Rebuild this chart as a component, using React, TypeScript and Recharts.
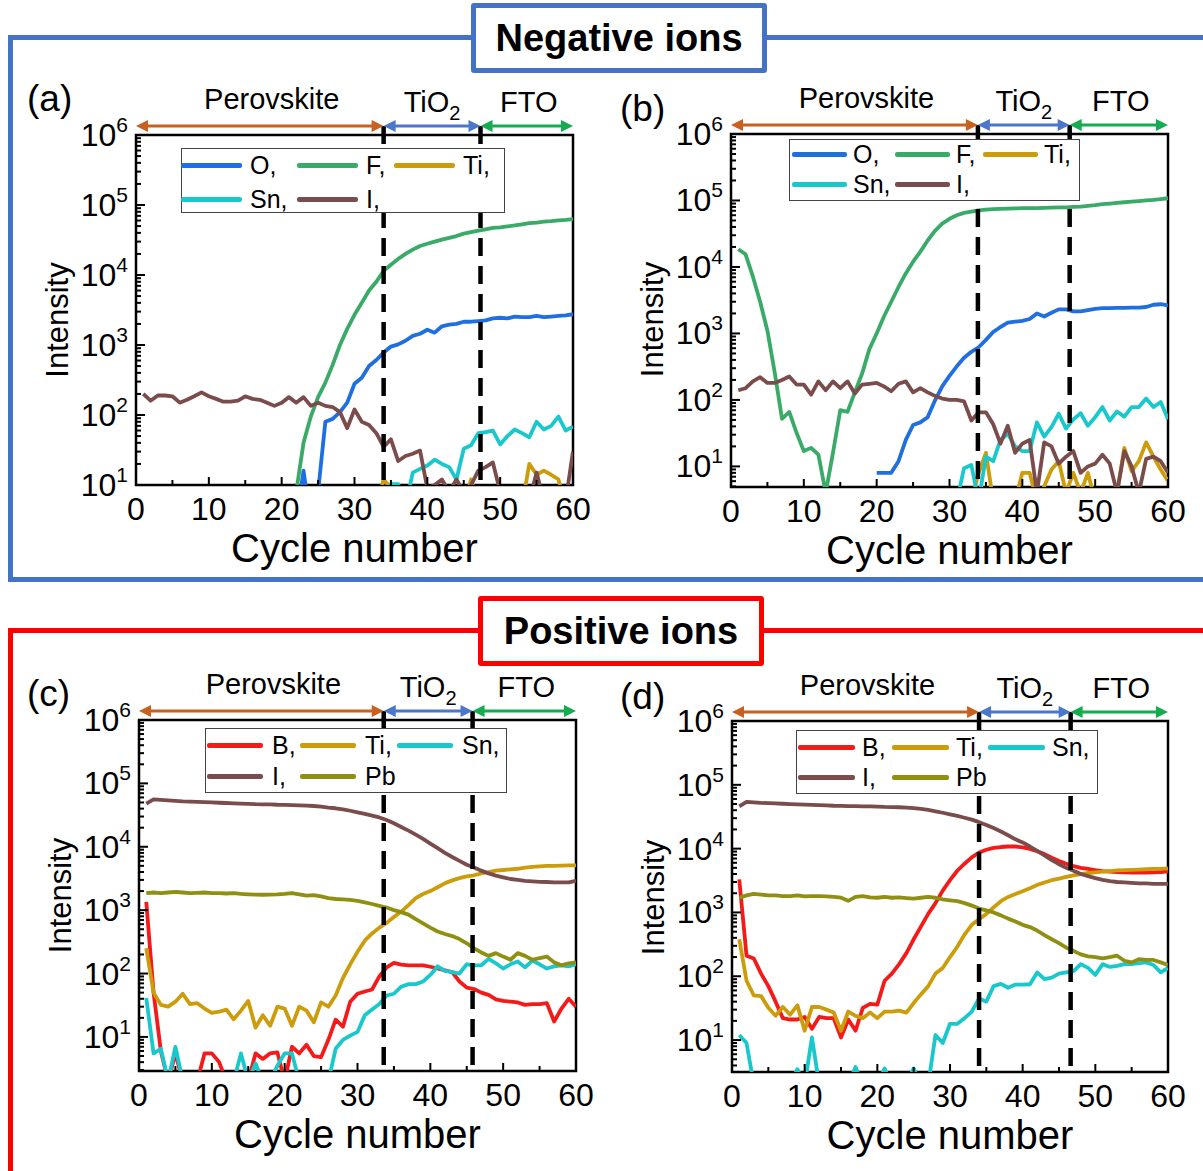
import React from 'react';
import { LineChart, Line, XAxis, YAxis, ReferenceLine, ReferenceArea, Legend } from 'recharts';

const FONT = '"Liberation Sans", Arial, Helvetica, sans-serif';

const cycles = [
  1, 2, 3, 4, 5, 6, 7, 8, 9, 10, 11, 12, 13, 14, 15, 16, 17, 18, 19, 20,
  21, 22, 23, 24, 25, 26, 27, 28, 29, 30, 31, 32, 33, 34, 35, 36, 37, 38, 39, 40,
  41, 42, 43, 44, 45, 46, 47, 48, 49, 50, 51, 52, 53, 54, 55, 56, 57, 58, 59, 60,
];

const xTicks = [0, 5, 10, 15, 20, 25, 30, 35, 40, 45, 50, 55, 60];
const yDecades = [1, 10, 100, 1000, 10000, 100000, 1000000];
const yMinorSteps = [1, 2, 3, 4, 5, 6, 7, 8, 9];

// (a) negative ions, sample 1
const aO = [null, null, null, null, null, null, null, null, null, null, null, null, null, null, null, null, null, null, null, null,
  null, 3, 16, 3, 8, 80, 88, 110, 150, 280, 340, 500, 610, 780, 950, 1020, 1150, 1350, 1450, 1650,
  1500, 1850, 1950, 2000, 2150, 2150, 2200, 2250, 2400, 2450, 2400, 2550, 2500, 2500, 2600, 2500, 2550, 2600, 2650, 2750];
const aF = [null, null, null, null, null, null, null, null, null, null, null, null, null, null, null, null, null, null, null, null,
  null, 8, 40, 95, 180, 290, 520, 1000, 1700, 2700, 4000, 6000, 8000, 11500, 14000, 17000, 20000, 23000, 26000, 28000,
  30000, 32000, 34000, 36000, 39000, 41000, 43000, 45000, 47000, 48000, 49500, 51000, 53000, 55000, 56000, 58000, 59000, 60500, 61500, 63000];
const aTi = [null, null, null, null, null, null, null, null, null, null, null, null, null, null, null, null, null, null, null, null,
  null, null, null, null, null, null, null, null, null, null, null, null, 5, 12, 9, 5, 5, 5, 5, 5,
  5, 5, 5, 5, 5, 12, 5, 5, 5, 5, 5, 5, 5, 20, 14, 16, 14, 12, 5, 5];
const aSn = [null, null, null, null, null, null, null, null, null, null, null, null, null, null, null, null, null, null, null, null,
  null, null, null, null, null, null, null, null, null, null, null, null, null, 5, 10.3, 10.3, 5, 15, 17, 19,
  23, 20, 18, 12, 33, 37, 55, 57, 60, 38, 50, 62, 55, 48, 80, 62, 70, 95, 60, 68];
const aI = [200, 160, 190, 190, 185, 150, 165, 185, 210, 185, 170, 155, 155, 160, 185, 170, 165, 150, 135, 150,
  180, 150, 180, 135, 150, 135, 130, 110, 65, 120, 80, 72, 55, 35, 45, 22, 26, 28, 31, 9,
  10, 12, 8, 12, 8, 10, 16, 18, 21, 8, 6, 5, 6, 6, 15, 6, 6, 6, 6, 30];

// (b) negative ions, sample 2
const bO = [null, null, null, null, null, null, null, null, null, null, null, null, null, null, null, null, null, null, null, 8,
  8, 8, 12, 25, 42, 46, 55, 98, 160, 230, 320, 430, 530, 620, 800, 1050, 1250, 1450, 1500, 1550,
  1650, 2000, 1800, 2050, 2300, 2300, 2150, 2150, 2250, 2350, 2400, 2400, 2420, 2420, 2450, 2450, 2500, 2700, 2750, 2650];
const bF = [18500, 15500, 7200, 3000, 1100, 260, 52, 66, 32, 17, 19, 15, 4, 16, 70, 66, 130, 250, 580, 1000,
  1800, 3000, 5000, 8000, 12000, 17000, 25000, 35000, 45000, 53000, 60000, 65000, 68000, 71000, 73000, 74000, 75000, 75500, 76000, 76500,
  77000, 77000, 77500, 78000, 78500, 79000, 80000, 81000, 83000, 85000, 88000, 90000, 92000, 94000, 96000, 98000, 100000, 102000, 105000, 108000];
const bTi = [null, null, null, null, null, null, null, null, null, null, null, null, null, null, null, null, null, null, null, null,
  null, null, null, null, null, null, null, null, null, null, null, null, 3, 8, 16, 3, 3, 3, 3, 8,
  8, 3, 5, 9, 12, 4, 8, 4, 8, 3, 3, 3, 4, 19, 8.5, 12, 23, 14, 9, 6];
const bSn = [null, null, null, null, null, null, null, null, null, null, null, null, null, null, null, null, null, null, null, null,
  null, null, null, null, null, null, null, null, null, null, 3, 9.4, 10.5, 3, 14, 12, 25, 31, 20, 17,
  17, 46, 28, 39, 62, 37, 51, 63, 41, 55, 78, 49, 67, 56, 78, 78, 105, 78, 93, 51];
const bI = [140, 150, 190, 220, 180, 180, 200, 225, 170, 170, 120, 190, 140, 190, 150, 190, 125, 170, 175, 180,
  160, 135, 175, 190, 130, 150, 130, 115, 105, 100, 100, 95, 49, 65, 65, 43, 22, 41, 16, 22,
  25, 4, 23, 20, 11, 14, 17, 8, 10, 11, 15, 11, 4, 17, 10, 4, 13, 14, 12, 8];

// (c) positive ions, sample 1
const cB = [1350, 50, 6, 2, 5.5, 2, 2, 2, 5.5, 5.5, 4, 2, 2, 2, 2, 5.5, 4.5, 5.5, 5.7, 2,
  7, 5.5, 7.5, 5, 4.8, 9, 18.7, 14.5, 36, 48, 52, 56, 90, 125, 147, 138, 135, 135, 135, 128,
  120, 112, 105, 75, 60, 57, 50, 46, 39, 37, 36, 35, 32, 33, 33, 34, 17.5, 28, 40, 30];
const cTi = [250, 50, 32, 30, 36, 48, 33, 34, 28, 24, 25, 27, 19, 26, 37, 14, 22, 15, 30, 28,
  15, 30, 26, 17, 35, 30, 45, 85, 140, 220, 330, 430, 530, 630, 780, 950, 1200, 1550, 1800, 2000,
  2300, 2650, 2950, 3200, 3400, 3550, 3800, 4000, 4200, 4300, 4400, 4500, 4700, 4800, 4900, 5000, 5000, 5050, 5100, 5100];
const cSn = [41, 5.5, 6.5, 2, 7, 2, 2, 2, 2, 2, 2, 2, 2, 5.5, 2, 3.8, 2, 2, 3.5, 5.5,
  5.5, 2, 2, 2, 2, 2, 6.5, 9, 10.5, 12, 22, 27, 33, 45, 48, 62, 68, 68, 75, 95,
  130, 110, 105, 100, 140, 135, 135, 170, 145, 120, 140, 155, 125, 160, 140, 120, 130, 135, 130, 140];
const cI = [48000, 56000, 55000, 54000, 53000, 52000, 51500, 51000, 50500, 50000, 49500, 49000, 48500, 48000, 47500, 47000, 46800, 46500, 46000, 45800,
  45500, 45000, 44500, 44000, 43000, 41500, 40500, 39000, 37000, 35000, 33000, 31000, 29000, 26500, 23500, 20500, 18000, 15500, 13300, 11200,
  9500, 8000, 6900, 6000, 5200, 4700, 4200, 3800, 3500, 3300, 3100, 3000, 2900, 2850, 2800, 2780, 2750, 2750, 2750, 2900];
const cPb = [1850, 1900, 1850, 1900, 1950, 1900, 1850, 1880, 1900, 1850, 1850, 1830, 1850, 1800, 1780, 1760, 1750, 1760, 1770, 1800,
  1850, 1780, 1700, 1720, 1650, 1550, 1500, 1480, 1450, 1400, 1330, 1250, 1170, 1100, 1000, 930, 850, 720, 620, 530,
  460, 420, 390, 350, 300, 250, 215, 190, 210, 185, 165, 210, 190, 165, 175, 185, 150, 135, 145, 150];

// (d) positive ions, sample 2
const dB = [3300, 210, 190, 110, 70, 40, 22, 21, 21, 23, 15, 23, 22, 22, 11, 21, 14, 32, 37, 36,
  85, 110, 155, 230, 380, 600, 950, 1400, 2200, 3200, 4500, 5800, 7300, 8700, 9600, 10300, 10600, 10800, 10800, 10500,
  9900, 9100, 8200, 7200, 6400, 5800, 5300, 5000, 4800, 4600, 4450, 4350, 4300, 4250, 4200, 4200, 4200, 4250, 4300, 4400];
const dTi = [380, 85, 50, 49, 32, 24, 33, 25, 35, 14, 33, 33, 30, 27, 14, 28, 24, 22, 27, 22,
  28, 28, 29, 27, 38, 52, 70, 110, 135, 200, 290, 450, 640, 780, 950, 1200, 1500, 1750, 1950, 2150,
  2400, 2700, 2950, 3200, 3400, 3600, 3800, 4000, 4150, 4250, 4350, 4450, 4550, 4600, 4650, 4700, 4750, 4800, 4800, 4900];
const dSn = [12, 9, 2, 2, 2, 2, 2, 2, 3.5, 2, 11, 2, 2, 2, 2, 2, 3.8, 2, 2, 2,
  3.6, 2, 2, 2, 3.6, 2, 2, 12, 9, 18, 18, 22, 28, 45, 40, 70, 76, 66, 74, 74,
  75, 115, 90, 95, 110, 115, 120, 155, 135, 105, 155, 140, 145, 155, 155, 160, 165, 150, 115, 135];
const dI = [46000, 54000, 53000, 52000, 51500, 51000, 50500, 50000, 49500, 49000, 48500, 48000, 47500, 47000, 46800, 46500, 46200, 46000, 45800, 45500,
  45000, 44800, 44500, 44000, 43000, 42000, 40500, 38500, 36500, 34500, 32500, 30500, 28500, 26000, 23500, 21000, 18500, 16200, 14000, 12500,
  10800, 9200, 7800, 6600, 5700, 5000, 4500, 4000, 3700, 3450, 3250, 3100, 3000, 2950, 2900, 2850, 2850, 2800, 2800, 2800];
const dPb = [1700, 1850, 1950, 1900, 1850, 1850, 1800, 1800, 1850, 1780, 1800, 1800, 1780, 1760, 1700, 1520, 1750, 1800, 1720, 1700,
  1750, 1700, 1720, 1680, 1650, 1700, 1750, 1700, 1600, 1550, 1500, 1400, 1280, 1150, 1080, 1000, 900, 800, 720, 640,
  590, 520, 440, 380, 330, 280, 250, 220, 205, 200, 190, 200, 210, 175, 165, 185, 180, 180, 165, 150];

const COLORS: Record<string, string> = {
  O: '#1f6fe0',
  F: '#3aaa68',
  Ti: '#cc9c0a',
  Sn: '#19c8cc',
  I: '#7a4c4c',
  B: '#f41a1a',
  Pb: '#8f8f12',
};

const ARROW = { per: '#c8611f', tio: '#4a77cc', fto: '#13ad4f' };

type Series = { key: string; values: (number | null)[] };

const buildRows = (series: Series[]) =>
  cycles.map((c, i) => {
    const row: Record<string, number | null> = { cycle: c };
    series.forEach((s) => {
      row[s.key] = s.values[i];
    });
    return row;
  });

const yTicksFor = (min: number) => {
  const out: number[] = [];
  yDecades.forEach((d) => {
    yMinorSteps.forEach((m) => {
      const v = d * m;
      if (v >= min && v <= 1000000) out.push(v);
    });
  });
  return out;
};

const renderYTick = (props: any) => {
  const { x, y, payload } = props;
  const v = payload.value;
  const lg = Math.log10(v);
  const exp = Math.round(lg);
  const major = Math.abs(lg - exp) < 1e-6;
  return (
    <g>
      <line x1={x} x2={x + (major ? 9 : 5)} y1={y} y2={y} stroke="#000" strokeWidth={2} />
      {major && (
        <text x={x - 8} y={y + 11} textAnchor="end" fontFamily={FONT} fontSize={32} fill="#000">
          10
          <tspan fontSize={21} dy={-14}>
            {exp}
          </tspan>
        </text>
      )}
    </g>
  );
};

const renderXTick = (props: any) => {
  const { x, y, payload } = props;
  const v = payload.value;
  const major = v % 10 === 0;
  return (
    <g>
      <line x1={x} x2={x} y1={y} y2={y - (major ? 8 : 5)} stroke="#000" strokeWidth={2} />
      {major && (
        <text x={x} y={y + 35} textAnchor="middle" fontFamily={FONT} fontSize={32} fill="#000">
          {v}
        </text>
      )}
    </g>
  );
};

const dashShape = (p: any) => {
  const top = Math.min(p.y1, p.y2) - 9;
  const bot = Math.max(p.y1, p.y2);
  return (
    <line x1={p.x1} x2={p.x2} y1={top} y2={bot} stroke="#000" strokeWidth={4.5} strokeDasharray="18 10" />
  );
};

const arrowShape = (color: string, text: React.ReactNode, dx: number, dy: number) => (p: any) => {
  const xa = Math.min(p.x1, p.x2);
  const xb = Math.max(p.x1, p.x2);
  const y = p.y1 - 9;
  const h = 12;
  const w = 6;
  return (
    <g>
      <line x1={xa + h - 1} x2={xb - h + 1} y1={y} y2={y} stroke={color} strokeWidth={3} />
      <polygon points={`${xa},${y} ${xa + h},${y - w} ${xa + h},${y + w}`} fill={color} />
      <polygon points={`${xb},${y} ${xb - h},${y - w} ${xb - h},${y + w}`} fill={color} />
      <text x={(xa + xb) / 2 + dx} y={y - dy} textAnchor="middle" fontFamily={FONT} fontSize={29} fill="#000">
        {text}
      </text>
    </g>
  );
};

type LegendCfg = {
  left: number;
  top: number;
  width: number;
  height: number;
  cols: number[];
  rows: number[];
  line: number;
  gap: number;
};

const legendPos = [
  [0, 0],
  [1, 0],
  [2, 0],
  [0, 1],
  [1, 1],
];

const makeLegend = (cfg: LegendCfg, order: string[]) => (props: any) => {
  const payload = props.payload || [];
  // keep the order of the original figure, not the sorted one
  const items = order
    .map((name) => payload.find((e: any) => e.value === name))
    .filter(Boolean);
  return (
    <div
      style={{
        position: 'relative',
        width: cfg.width,
        height: cfg.height,
        background: '#fff',
        border: '1.5px solid #444',
        boxSizing: 'border-box',
        fontFamily: FONT,
      }}
    >
      {items.map((e: any, i: number) => {
        const [c, r] = legendPos[i] || [0, 0];
        const lx = cfg.cols[c];
        const cy = cfg.rows[r];
        return (
          <React.Fragment key={i}>
            <div
              style={{
                position: 'absolute',
                left: lx - 1,
                top: cy - 3,
                width: cfg.line,
                height: 4.5,
                borderRadius: 2,
                background: e.color,
              }}
            />
            <span
              style={{
                position: 'absolute',
                left: lx + cfg.gap - 1,
                top: cy - 16,
                lineHeight: '30px',
                fontSize: 25,
                color: '#000',
                whiteSpace: 'nowrap',
              }}
            >
              {e.value}
            </span>
          </React.Fragment>
        );
      })}
    </div>
  );
};

type PanelCfg = {
  letter: string;
  letterPos: [number, number];
  plot: { left: number; top: number; right: number; bottom: number };
  yMin: number;
  series: Series[];
  labels: string[];
  dashes: [number, number];
  legend: LegendCfg;
  yLabelDy: number;
};

const Panel: React.FC<{ cfg: PanelCfg }> = ({ cfg }) => {
  const { plot } = cfg;
  const chartLeft = plot.left - 110;
  const chartTop = plot.top - 95;
  const width = plot.right - plot.left + 140;
  const height = plot.bottom - plot.top + 190;
  const rows = buildRows(cfg.series);
  const [d1, d2] = cfg.dashes;
  const yTop = 1000000;

  return (
    <div style={{ position: 'absolute', left: chartLeft, top: chartTop, width, height }}>
      <LineChart width={width} height={height} data={rows} margin={{ top: 95, right: 30, left: 10, bottom: 5 }}>
        <XAxis
          dataKey="cycle"
          type="number"
          domain={[0, 60]}
          ticks={xTicks}
          interval={0}
          tick={renderXTick}
          tickLine={false}
          axisLine={false}
          tickSize={0}
          tickMargin={0}
          height={90}
          allowDataOverflow
          label={(p: any) => {
            const vb = p.viewBox;
            return (
              <text
                x={vb.x + vb.width / 2}
                y={vb.y + 77}
                textAnchor="middle"
                fontFamily={FONT}
                fontSize={40}
                fill="#000"
              >
                Cycle number
              </text>
            );
          }}
        />
        <YAxis
          type="number"
          scale="log"
          domain={[cfg.yMin, yTop]}
          ticks={yTicksFor(cfg.yMin)}
          interval={0}
          tick={renderYTick}
          tickLine={false}
          axisLine={false}
          tickSize={0}
          tickMargin={0}
          width={100}
          allowDataOverflow
          label={(p: any) => {
            const vb = p.viewBox;
            const lx = vb.x + vb.width - 68;
            const ly = vb.y + vb.height / 2 + cfg.yLabelDy;
            return (
              <text
                x={lx}
                y={ly}
                transform={`rotate(-90 ${lx} ${ly})`}
                textAnchor="middle"
                fontFamily={FONT}
                fontSize={31}
                fill="#000"
              >
                Intensity
              </text>
            );
          }}
        />
        <ReferenceArea
          x1={0}
          x2={60}
          y1={cfg.yMin}
          y2={yTop}
          fill="none"
          fillOpacity={0}
          stroke="#000"
          strokeWidth={2.5}
          ifOverflow="visible"
        />
        {cfg.series.map((s, i) => (
          <Line
            key={s.key}
            type="linear"
            dataKey={s.key}
            name={cfg.labels[i]}
            stroke={COLORS[s.key]}
            strokeWidth={3.8}
            strokeLinejoin="round"
            dot={false}
            activeDot={false}
            connectNulls={false}
            isAnimationActive={false}
          />
        ))}
        <ReferenceLine x={d1} ifOverflow="visible" shape={dashShape} />
        <ReferenceLine x={d2} ifOverflow="visible" shape={dashShape} />
        <ReferenceLine
          segment={[{ x: 0, y: yTop }, { x: d1, y: yTop }]}
          ifOverflow="visible"
          shape={arrowShape(ARROW.per, 'Perovskite', 12, 17)}
        />
        <ReferenceLine
          segment={[{ x: d1, y: yTop }, { x: d2, y: yTop }]}
          ifOverflow="visible"
          shape={arrowShape(
            ARROW.tio,
            <>
              TiO
              <tspan fontSize={20} dy={8}>
                2
              </tspan>
            </>,
            0,
            14,
          )}
        />
        <ReferenceLine
          segment={[{ x: d2, y: yTop }, { x: 60, y: yTop }]}
          ifOverflow="visible"
          shape={arrowShape(ARROW.fto, 'FTO', 2, 14)}
        />
        <Legend
          layout="vertical"
          align="center"
          verticalAlign="middle"
          wrapperStyle={{
            left: cfg.legend.left - chartLeft,
            top: cfg.legend.top - chartTop,
            width: cfg.legend.width,
            height: cfg.legend.height,
          }}
          content={makeLegend(cfg.legend, cfg.labels)}
        />
      </LineChart>
    </div>
  );
};

const panels: PanelCfg[] = [
  {
    letter: '(a)',
    letterPos: [27, 111],
    plot: { left: 136, top: 135, right: 573, bottom: 485 },
    yMin: 10,
    series: [
      { key: 'O', values: aO },
      { key: 'F', values: aF },
      { key: 'Ti', values: aTi },
      { key: 'Sn', values: aSn },
      { key: 'I', values: aI },
    ],
    labels: ['O,', 'F,', 'Ti,', 'Sn,', 'I,'],
    dashes: [34, 47.3],
    legend: { left: 181, top: 148, width: 324, height: 65, cols: [0, 116, 213], rows: [17, 51], line: 61, gap: 69 },
    yLabelDy: 10,
  },
  {
    letter: '(b)',
    letterPos: [620, 121],
    plot: { left: 731, top: 134, right: 1168, bottom: 487 },
    yMin: 4.9,
    series: [
      { key: 'O', values: bO },
      { key: 'F', values: bF },
      { key: 'Ti', values: bTi },
      { key: 'Sn', values: bSn },
      { key: 'I', values: bI },
    ],
    labels: ['O,', 'F,', 'Ti,', 'Sn,', 'I,'],
    dashes: [33.9, 46.5],
    legend: { left: 789, top: 139, width: 291, height: 62, cols: [3, 106, 194], rows: [15, 45], line: 55, gap: 61 },
    yLabelDy: 9,
  },
  {
    letter: '(c)',
    letterPos: [27, 706],
    plot: { left: 139, top: 720, right: 576, bottom: 1071 },
    yMin: 2.9,
    series: [
      { key: 'B', values: cB },
      { key: 'Ti', values: cTi },
      { key: 'Sn', values: cSn },
      { key: 'I', values: cI },
      { key: 'Pb', values: cPb },
    ],
    labels: ['B,', 'Ti,', 'Sn,', 'I,', 'Pb'],
    dashes: [33.6, 45.8],
    legend: { left: 205, top: 728, width: 302, height: 65, cols: [2, 95, 192], rows: [17, 48], line: 56, gap: 65 },
    yLabelDy: 0,
  },
  {
    letter: '(d)',
    letterPos: [620, 709],
    plot: { left: 732, top: 721, right: 1168, bottom: 1072 },
    yMin: 3.16,
    series: [
      { key: 'B', values: dB },
      { key: 'Ti', values: dTi },
      { key: 'Sn', values: dSn },
      { key: 'I', values: dI },
      { key: 'Pb', values: dPb },
    ],
    labels: ['B,', 'Ti,', 'Sn,', 'I,', 'Pb'],
    dashes: [34, 46.6],
    legend: { left: 796, top: 730, width: 302, height: 64, cols: [2, 96, 192], rows: [17, 47], line: 57, gap: 64 },
    yLabelDy: 1,
  },
];

const titleBox = (left: number, top: number, w: number, h: number, color: string, text: string) => (
  <div
    style={{
      position: 'absolute',
      left,
      top,
      width: w,
      height: h,
      border: `5px solid ${color}`,
      borderRadius: 3,
      background: '#fff',
      boxSizing: 'border-box',
      display: 'flex',
      alignItems: 'center',
      justifyContent: 'center',
      fontFamily: FONT,
      fontWeight: 700,
      fontSize: 38,
      color: '#000',
    }}
  >
    {text}
  </div>
);

export default function App() {
  return (
    <div
      style={{
        position: 'absolute',
        left: 0,
        top: 0,
        width: 1203,
        height: 1171,
        overflow: 'hidden',
        background: '#fff',
        fontFamily: FONT,
      }}
    >
      <div
        style={{
          position: 'absolute',
          left: 8,
          top: 35,
          width: 1300,
          height: 547,
          border: '5px solid #4472c4',
          boxSizing: 'border-box',
        }}
      />
      <div
        style={{
          position: 'absolute',
          left: 8,
          top: 628,
          width: 1300,
          height: 700,
          border: '5px solid #ff0000',
          boxSizing: 'border-box',
        }}
      />
      {titleBox(471, 3, 296, 70, '#4472c4', 'Negative ions')}
      {titleBox(478, 596, 286, 70, '#ff0000', 'Positive ions')}
      {panels.map((p) => (
        <Panel key={p.letter} cfg={p} />
      ))}
      <svg width={1203} height={1171} style={{ position: 'absolute', left: 0, top: 0, pointerEvents: 'none' }}>
        {panels.map((p) => (
          <text key={p.letter} x={p.letterPos[0]} y={p.letterPos[1]} fontFamily={FONT} fontSize={37} fill="#000">
            {p.letter}
          </text>
        ))}
      </svg>
    </div>
  );
}
